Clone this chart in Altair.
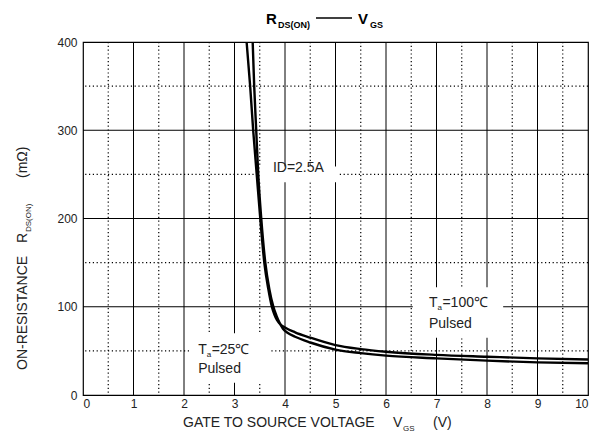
import altair as alt
import pandas as pd

# ---- data ----
vgs_100c = [3.24, 3.31, 3.37, 3.44, 3.51, 3.59, 3.67, 3.74, 3.79, 3.84, 3.90, 4.00, 4.20, 4.50, 5.00, 5.50, 6.00, 7.00, 8.00, 9.00, 10.00]
rds_100c = [400, 350, 300, 250, 200, 150, 120, 100, 91, 85, 80.5, 76.5, 71, 65, 56.5, 52, 49, 45.5, 43.4, 41.5, 40.3]
vgs_25c = [3.36, 3.39, 3.43, 3.47, 3.53, 3.61, 3.69, 3.77, 3.83, 3.90, 3.96, 4.05, 4.20, 4.50, 5.00, 5.50, 6.00, 7.00, 8.00, 9.00, 10.00]
rds_25c = [400, 350, 300, 250, 200, 150, 120, 100, 90, 81, 75, 70.5, 66, 59.5, 51.5, 47.5, 44.6, 41.5, 38.9, 37, 35.9]

x_tick_values = [0, 1, 2, 3, 4, 5, 6, 7, 8, 9, 10]
y_tick_values = [0, 100, 200, 300, 400]
x_grid_major = [1, 2, 3, 4, 5, 6, 7, 8, 9]
x_grid_minor = [0.5, 1.5, 2.5, 3.5, 4.5, 5.5, 6.5, 7.5, 8.5, 9.5]
y_grid_major = [100, 200, 300]
y_grid_minor = [50, 150, 250, 350]

# white boxes behind the in-plot labels
box_x1 = [3.50, 2.12, 6.53]
box_x2 = [5.05, 3.70, 8.32]
box_y1 = [241, 14, 65]
box_y2 = [259, 70, 122]

# in-plot labels
main_text = ["ID=2.5A", "T", "Pulsed", "T", "Pulsed"]
main_v = [3.76, 2.28, 2.28, 6.85, 6.85]
main_r = [257, 51, 29.5, 104, 80.5]
sub_text = ["a", "a"]
sub_v = [2.28, 6.85]
sub_r = [51, 104]
rest_text = ["=25℃", "=100℃"]
rest_v = [2.28, 6.85]
rest_r = [51, 104]

FONT = "Liberation Sans"
W, H = 505, 353
xs = alt.Scale(domain=[0, 10], nice=False, zero=False)
ys = alt.Scale(domain=[0, 400], nice=False, zero=False)

x_axis = alt.Axis(values=x_tick_values, title=None, grid=False, ticks=False, domain=False,
                  labelFont=FONT, labelFontSize=12, labelColor="#222", labelPadding=3)
y_axis = alt.Axis(values=y_tick_values, title=None, grid=False, ticks=False, domain=False,
                  labelFont=FONT, labelFontSize=12, labelColor="#222", labelPadding=6)

curves = pd.DataFrame({
    "V": vgs_100c + vgs_25c,
    "R": rds_100c + rds_25c,
    "s": ["100"] * len(vgs_100c) + ["25"] * len(vgs_25c),
})

xg_major = pd.DataFrame({"v": x_grid_major})
xg_minor = pd.DataFrame({"v": x_grid_minor})
yg_major = pd.DataFrame({"r": y_grid_major})
yg_minor = pd.DataFrame({"r": y_grid_minor})
boxes = pd.DataFrame({"x1": box_x1, "x2": box_x2, "y1": box_y1, "y2": box_y2})

# invisible layer carrying the axes
axes_layer = alt.Chart(curves).mark_point(opacity=0).encode(
    x=alt.X("V:Q", scale=xs, axis=x_axis),
    y=alt.Y("R:Q", scale=ys, axis=y_axis),
)

dot_style = dict(color="black", strokeWidth=1.2, strokeDash=[1.2, 2.6])

vminor = alt.Chart(xg_minor).mark_rule(**dot_style).encode(x=alt.X("v:Q", scale=xs, axis=x_axis))
hminor = alt.Chart(yg_minor).mark_rule(**dot_style).encode(y=alt.Y("r:Q", scale=ys, axis=y_axis))
vmajor = alt.Chart(xg_major).mark_rule(color="black", strokeWidth=1).encode(x=alt.X("v:Q", scale=xs, axis=x_axis))
hmajor = alt.Chart(yg_major).mark_rule(color="black", strokeWidth=1).encode(y=alt.Y("r:Q", scale=ys, axis=y_axis))

box_layer = alt.Chart(boxes).mark_rect(color="white").encode(
    x=alt.X("x1:Q", scale=xs, axis=x_axis), x2="x2:Q",
    y=alt.Y("y1:Q", scale=ys, axis=y_axis), y2="y2:Q",
)

lines = alt.Chart(curves).mark_line(color="black", strokeWidth=2.4, interpolate="monotone").encode(
    x=alt.X("V:Q", scale=xs, axis=x_axis),
    y=alt.Y("R:Q", scale=ys, axis=y_axis),
    detail="s:N",
)

main_df = pd.DataFrame({"t": main_text, "v": main_v, "r": main_r})
sub_df = pd.DataFrame({"t": sub_text, "v": sub_v, "r": sub_r})
rest_df = pd.DataFrame({"t": rest_text, "v": rest_v, "r": rest_r})

main_lbl = alt.Chart(main_df).mark_text(font=FONT, fontSize=14, align="left", baseline="middle", color="#222").encode(
    x=alt.X("v:Q", scale=xs, axis=x_axis), y=alt.Y("r:Q", scale=ys, axis=y_axis), text="t:N")
sub_lbl = alt.Chart(sub_df).mark_text(font=FONT, fontSize=8, align="left", baseline="middle", color="#222", dx=8.5, dy=5).encode(
    x=alt.X("v:Q", scale=xs, axis=x_axis), y=alt.Y("r:Q", scale=ys, axis=y_axis), text="t:N")
rest_lbl = alt.Chart(rest_df).mark_text(font=FONT, fontSize=14, align="left", baseline="middle", color="#222", dx=13.5).encode(
    x=alt.X("v:Q", scale=xs, axis=x_axis), y=alt.Y("r:Q", scale=ys, axis=y_axis), text="t:N")

# ---- titles (pixel positions relative to plot origin at (83, 42)) ----
OX, OY = 83, 42

def ptext(txt, px, py, size, bold=False, angle=0, baseline="alphabetic", align="left"):
    kw = dict(text=txt, font=FONT, fontSize=size, align=align, baseline=baseline, color="#222")
    if bold:
        kw["fontWeight"] = "bold"
        kw["color"] = "black"
    if angle:
        kw["angle"] = angle
    return alt.Chart(pd.DataFrame({"a": [0]})).mark_text(**kw).encode(
        x=alt.value(px - OX), y=alt.value(py - OY))

title_parts = [
    ptext("R", 266, 24, 15, bold=True),
    ptext("DS(ON)", 278, 28, 9, bold=True),
    ptext("V", 358, 24, 15, bold=True),
    ptext("GS", 370, 28, 9, bold=True),
    alt.Chart(pd.DataFrame({"a": [0]})).mark_rule(color="black", strokeWidth=1.6).encode(
        x=alt.value(316 - OX), x2=alt.value(352 - OX), y=alt.value(18 - OY)),
]

xtitle_parts = [
    ptext("GATE TO SOURCE VOLTAGE", 183, 427, 14),
    ptext("V", 393, 427, 14),
    ptext("GS", 403, 431, 8),
    ptext("(V)", 433, 427, 14),
]

ytitle_parts = [
    ptext("ON-RESISTANCE", 27, 370, 14, angle=270),
    ptext("R", 27, 243, 14, angle=270),
    ptext("DS(ON)", 31, 232, 8, angle=270),
    ptext("(mΩ)", 27, 178, 14, angle=270),
]

chart = alt.layer(
    axes_layer, vminor, hminor, vmajor, hmajor, box_layer, lines, main_lbl, sub_lbl, rest_lbl,
    *title_parts, *xtitle_parts, *ytitle_parts,
).properties(
    width=W, height=H,
    autosize=alt.AutoSizeParams(type="none"),
    padding={"left": OX, "top": OY, "right": 596 - OX - W, "bottom": 435 - OY - H},
    background="white",
).configure_view(stroke="black", strokeWidth=1.2)

chart.save("out.html", embed_options={"renderer": "svg", "actions": False})
